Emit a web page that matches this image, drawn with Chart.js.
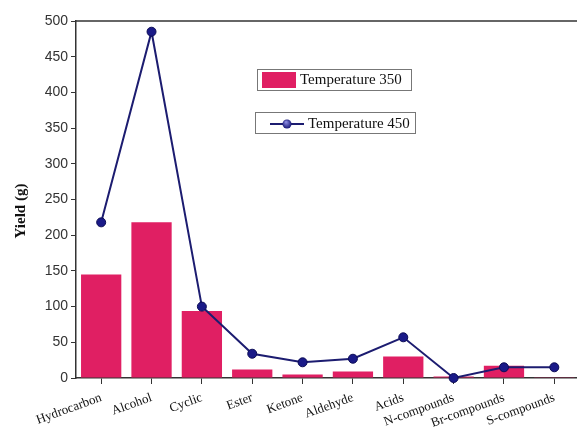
<!DOCTYPE html>
<html><head><meta charset="utf-8">
<script src="https://cdn.jsdelivr.net/npm/chart.js@4"></script>
<style>html,body{margin:0;padding:0;background:#fff;overflow:hidden;width:577px;height:430px}#w{width:585px;height:430px}</style>
</head><body><div id="w"><canvas id="c" width="585" height="430"></canvas></div>
<script>
const categories = ['Hydrocarbon','Alcohol','Cyclic','Ester','Ketone','Aldehyde','Acids','N-compounds','Br-compounds','S-compounds'];
const temp350 = [145, 218, 94, 12, 5, 9, 30, 2, 17, 1];
const temp450 = [218, 485, 100, 34, 22, 27, 57, 0, 15, 15];
const yTicks = [0,50,100,150,200,250,300,350,400,450,500];

const extras = {
  id:'extras',
  afterDraw(chart){
    const {ctx, chartArea:a} = chart;
    ctx.save();
    ctx.strokeStyle='#333'; ctx.lineWidth=1.5;
    ctx.beginPath(); ctx.moveTo(a.left, a.top); ctx.lineTo(chart.width, a.top); ctx.stroke();
    // y title
    ctx.translate(21, 211); ctx.rotate(-Math.PI/2);
    ctx.font='bold 15px "Liberation Serif"'; ctx.fillStyle='#111';
    ctx.textAlign='center'; ctx.textBaseline='middle';
    ctx.fillText('Yield (g)', 0, 0);
    ctx.restore();
    // legend
    ctx.save();
    ctx.strokeStyle='#777'; ctx.lineWidth=1;
    ctx.strokeRect(257.5, 69.5, 154, 21);
    ctx.fillStyle='#E01F63'; ctx.fillRect(262, 72, 34, 16);
    ctx.font='15px "Liberation Serif"'; ctx.fillStyle='#111'; ctx.textBaseline='middle'; ctx.textAlign='left';
    ctx.fillText('Temperature 350', 300, 80);
    ctx.strokeRect(255.5, 112.5, 160, 21);
    ctx.strokeStyle='#1c1c70'; ctx.lineWidth=2;
    ctx.beginPath(); ctx.moveTo(270,124); ctx.lineTo(304,124); ctx.stroke();
    const g = ctx.createRadialGradient(286,122,0.5,287,124,5);
    g.addColorStop(0,'#8a8ae0'); g.addColorStop(1,'#0f0f70');
    ctx.fillStyle=g; ctx.beginPath(); ctx.arc(287,124,4.5,0,Math.PI*2); ctx.fill();
    ctx.fillStyle='#111';
    ctx.fillText('Temperature 450', 308, 124);
    ctx.restore();
  }
};

const ctxc = document.getElementById('c').getContext('2d');
new Chart(ctxc, {
  data:{
    labels: categories,
    datasets:[
      {type:'line', label:'Temperature 450', data: temp450, borderColor:'#1c1c70', borderWidth:2,
       pointRadius:4.5, pointBackgroundColor:'#1a1a88', pointBorderColor:'#0c0c55', pointBorderWidth:1,
       tension:0, clip:false, order:0},
      {type:'bar', label:'Temperature 350', data: temp350, backgroundColor:'#E01F63',
       categoryPercentage:1, barPercentage:0.8, order:1}
    ]
  },
  options:{
    responsive:false, animation:false,
    layout:{padding:{top:21,left:0,right:0,bottom:0}},
    plugins:{legend:{display:false}, tooltip:{enabled:false}},
    scales:{
      x:{
        offset:true,
        grid:{drawOnChartArea:false, drawTicks:true, tickLength:6, tickColor:'#333', offset:false},
        border:{color:'#333', width:1.5},
        ticks:{autoSkip:false, minRotation:20, maxRotation:20, color:'#111', font:{family:'Liberation Serif', size:13}, padding:6},
        afterFit(s){ s.height = 52; }
      },
      y:{
        min:0, max:500,
        grid:{drawOnChartArea:false, drawTicks:true, tickLength:5, tickColor:'#333'},
        border:{color:'#333', width:1.5},
        ticks:{stepSize:50, color:'#333', font:{family:'Liberation Sans', size:14}, padding:3},
        afterBuildTicks(s){ s.ticks = yTicks.map(v=>({value:v})); },
        afterFit(s){ s.width = 76; }
      }
    }
  },
  plugins:[extras]
});
</script>
</body></html>
